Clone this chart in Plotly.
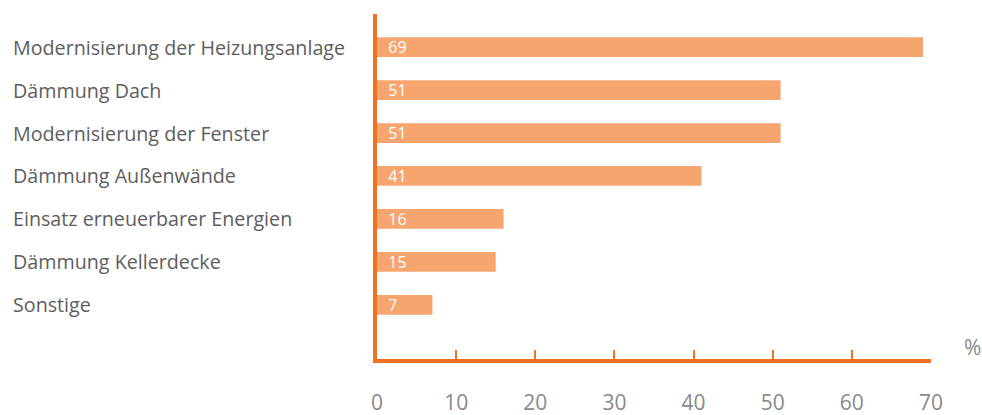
import plotly.graph_objects as go

# Umgesetzte Sanierungsmaßnahmen (Anteil in %)
categories = [
    "Modernisierung der Heizungsanlage",
    "Dämmung Dach",
    "Modernisierung der Fenster",
    "Dämmung Außenwände",
    "Einsatz erneuerbarer Energien",
    "Dämmung Kellerdecke",
    "Sonstige",
]
values = [69, 51, 51, 41, 16, 15, 7]
x_ticks = [0, 10, 20, 30, 40, 50, 60, 70]
unit_label = "%"

ORANGE = "#F36F21"
BAR = "#F7A56F"
GREY_TEXT = "#5e5e5e"
GREY_TICK = "#8a8a8a"
FONT = "Open Sans"

W, H = 982, 415
M_L, M_R, M_T, M_B = 377, 51, 14, 56
plot_w = W - M_L - M_R
plot_h = H - M_T - M_B

fig = go.Figure()
fig.add_trace(go.Bar(
    x=values,
    y=categories,
    orientation="h",
    marker=dict(color=BAR, line=dict(width=0)),
    width=0.46,
    text=[f"  {v}" for v in values],
    textposition="inside",
    insidetextanchor="start",
    constraintext="none",
    textangle=0,
    textfont=dict(family=FONT, size=16, color="white"),
    cliponaxis=False,
    hoverinfo="skip",
))

# Category labels, left-aligned at the page edge
for cat in categories:
    fig.add_annotation(
        x=(12 - M_L) / plot_w, xref="paper", xanchor="left",
        y=cat, yref="y", yanchor="middle",
        text=cat, showarrow=False, borderpad=0,
        font=dict(family=FONT, size=19.7, color=GREY_TEXT),
    )

# Unit label at the end of the value axis
fig.add_annotation(
    x=(972 - M_L) / plot_w, xref="paper", xanchor="center",
    y=(H - M_B - 347) / plot_h, yref="paper", yanchor="middle",
    text=unit_label, showarrow=False, borderpad=0,
    font=dict(family=FONT, size=21, color=GREY_TICK),
)

fig.update_layout(
    width=W, height=H,
    margin=dict(l=M_L, r=M_R, t=M_T, b=M_B, pad=0, autoexpand=False),
    plot_bgcolor="white", paper_bgcolor="white",
    showlegend=False,
)
fig.update_xaxes(
    range=[0, 70],
    tickvals=x_ticks,
    ticktext=[str(t) for t in x_ticks],
    showgrid=False, zeroline=False,
    showline=True, linecolor=ORANGE, linewidth=4,
    ticks="inside", ticklen=9, tickwidth=2, tickcolor=ORANGE,
    ticklabelstandoff=22,
    automargin=False,
    tickfont=dict(family=FONT, size=21, color=GREY_TICK),
)
fig.update_yaxes(
    type="category",
    categoryorder="array", categoryarray=categories,
    range=[7.26, -0.77],
    showticklabels=False,
    showgrid=False, zeroline=False,
    showline=True, linecolor=ORANGE, linewidth=4,
    ticks="",
    automargin=False,
)

fig.write_html("out.html")
